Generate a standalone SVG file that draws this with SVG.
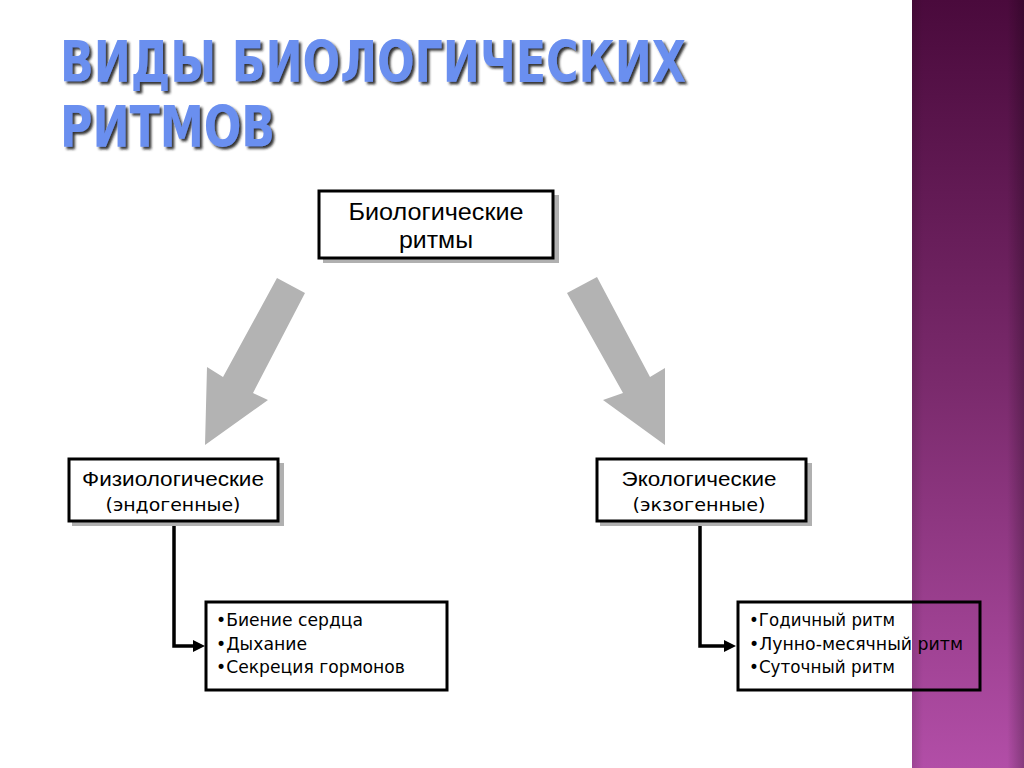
<svg xmlns="http://www.w3.org/2000/svg" width="1024" height="768" viewBox="0 0 1024 768">
  <defs>
    <linearGradient id="band" x1="0" y1="0" x2="0" y2="1">
      <stop offset="0" stop-color="#4a0a3c"/>
      <stop offset="0.5" stop-color="#7a2a6c"/>
      <stop offset="1" stop-color="#b24ea7"/>
    </linearGradient>
    <linearGradient id="bandEdge" x1="0" y1="0" x2="1" y2="0">
      <stop offset="0" stop-color="#000" stop-opacity="0.12"/>
      <stop offset="0.1" stop-color="#000" stop-opacity="0"/>
      <stop offset="0.85" stop-color="#000" stop-opacity="0"/>
      <stop offset="1" stop-color="#000" stop-opacity="0.25"/>
    </linearGradient>
    <filter id="tshadow" x="-5%" y="-20%" width="110%" height="150%">
      <feDropShadow dx="2.5" dy="2.5" stdDeviation="1.2" flood-color="#1a1a1a" flood-opacity="0.9"/>
    </filter>
  </defs>
  <style>
    .title { font-family: "DejaVu Sans Condensed", "DejaVu Sans", sans-serif; font-stretch: condensed; font-weight: bold; font-size: 57px; fill: #6b8fef; }
    .box { fill: none; stroke: #000; stroke-width: 3; }
    .boxw { fill: #fff; stroke: #000; stroke-width: 3; }
    .shadow { fill: #b0b0b0; }
    .lbl { font-family: "Liberation Sans", Arial, sans-serif; fill: #000; text-anchor: middle; }
    .sub { font-family: "DejaVu Sans", sans-serif; fill: #000; text-anchor: middle; font-size: 17px; }
    .item { font-family: "DejaVu Sans", sans-serif; fill: #000; font-size: 17.5px; }
    .conn { fill: none; stroke: #000; stroke-width: 3.5; }
    .big { fill: #b3b3b3; }
  </style>

  <rect x="0" y="0" width="1024" height="768" fill="#fff"/>

  <g id="band-decor">
    <rect x="912" y="0" width="112" height="768" fill="url(#band)"/>
    <rect x="912" y="0" width="112" height="768" fill="url(#bandEdge)"/>
  </g>

  <g id="title" class="title" filter="url(#tshadow)">
    <text x="60" y="82" textLength="626" lengthAdjust="spacingAndGlyphs">ВИДЫ БИОЛОГИЧЕСКИХ</text>
    <text x="60" y="147" textLength="215" lengthAdjust="spacingAndGlyphs">РИТМОВ</text>
  </g>

  <g id="connectors">
    <polygon class="big" points="277,278 305,293 253,393 268,400 205,445 207,367 223,377"/>
    <polygon class="big" points="597,277 567,293 623,393 603,400 665,445 665,368 650,377"/>
    <polyline class="conn" points="174,521 174,646 194,646"/>
    <path d="M193,640 L205,646 L193,652 Z" fill="#000"/>
    <polyline class="conn" points="700,521 700,646 725,646"/>
    <path d="M724,640 L736,646 L724,652 Z" fill="#000"/>
  </g>

  <g id="node-bio">
    <rect class="shadow" x="323" y="195" width="236" height="68"/>
    <rect class="boxw" x="319" y="191" width="234" height="67"/>
    <text class="lbl" x="436" y="220" font-size="23" textLength="175" lengthAdjust="spacingAndGlyphs">Биологические</text>
    <text class="lbl" x="436" y="248" font-size="23" textLength="74" lengthAdjust="spacingAndGlyphs">ритмы</text>
  </g>

  <g id="node-phys">
    <rect class="shadow" x="72" y="463" width="212" height="63"/>
    <rect class="boxw" x="69" y="459" width="209" height="62"/>
    <text class="lbl" x="173" y="486" font-size="20" textLength="182" lengthAdjust="spacingAndGlyphs">Физиологические</text>
    <text class="sub" x="173" y="511" textLength="135" lengthAdjust="spacingAndGlyphs">(эндогенные)</text>
  </g>

  <g id="node-eco">
    <rect class="shadow" x="600" y="463" width="212" height="63"/>
    <rect class="boxw" x="597" y="459" width="209" height="62"/>
    <text class="lbl" x="699" y="486" font-size="20" textLength="155" lengthAdjust="spacingAndGlyphs">Экологические</text>
    <text class="sub" x="699" y="511" textLength="133" lengthAdjust="spacingAndGlyphs">(экзогенные)</text>
  </g>

  <g id="node-phys-list">
    <rect class="boxw" x="206" y="602" width="241" height="88"/>
    <text class="item" x="216" y="626" textLength="147" lengthAdjust="spacingAndGlyphs">•Биение сердца</text>
    <text class="item" x="216" y="650" textLength="91" lengthAdjust="spacingAndGlyphs">•Дыхание</text>
    <text class="item" x="216" y="673" textLength="189" lengthAdjust="spacingAndGlyphs">•Секреция гормонов</text>
  </g>

  <g id="node-eco-list">
    <rect class="box" x="738" y="602" width="242" height="88"/>
    <text class="item" x="749" y="626" textLength="146" lengthAdjust="spacingAndGlyphs">•Годичный ритм</text>
    <text class="item" x="749" y="650" textLength="214" lengthAdjust="spacingAndGlyphs">•Лунно-месячный ритм</text>
    <text class="item" x="749" y="673" textLength="146" lengthAdjust="spacingAndGlyphs">•Суточный ритм</text>
  </g>
</svg>
